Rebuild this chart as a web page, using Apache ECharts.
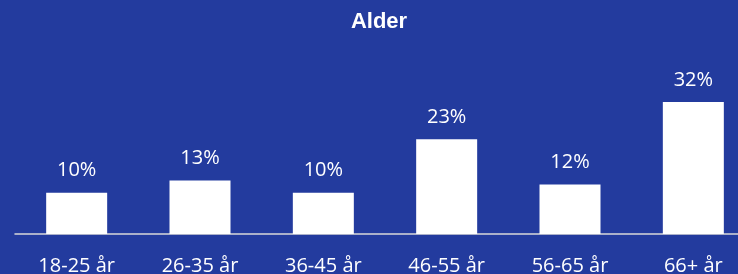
<!DOCTYPE html>
<html>
<head>
<meta charset="utf-8">
<script src="https://cdn.jsdelivr.net/npm/echarts@6/dist/echarts.min.js"></script>
<style>
html,body{margin:0;padding:0;background:#233B9E;}
#c{width:738px;height:274px;}
</style>
</head>
<body>
<div id="c"></div>
<script>
const titleText = "Alder";
const categories = ["18-25 år", "26-35 år", "36-45 år", "46-55 år", "56-65 år", "66+ år"];
const values = [10, 13, 10, 23, 12, 32];

const chart = echarts.init(document.getElementById('c'), null, {renderer: 'canvas'});
chart.setOption({
  backgroundColor: '#233B9E',
  animation: false,
  title: {
    text: titleText,
    left: 374,
    top: 6,
    textAlign: 'center',
    textStyle: {color: '#ffffff', fontFamily: 'Liberation Sans', fontWeight: 'bold', fontSize: 22}
  },
  grid: {left: 15, top: 69, bottom: 40, width: 740, outerBoundsMode: 'none', containLabel: false},
  xAxis: {
    type: 'category',
    data: categories,
    axisLine: {show: true, lineStyle: {color: '#d9d9d9', width: 1.5}},
    axisTick: {show: false},
    axisLabel: {color: '#ffffff', fontFamily: 'Open Sans', fontSize: 20, margin: 22}
  },
  yAxis: {
    type: 'value', min: 0, max: 40, show: false
  },
  series: [{
    type: 'bar',
    data: values,
    barWidth: 61,
    itemStyle: {color: '#ffffff'},
    label: {
      show: true,
      position: 'top',
      distance: 12,
      color: '#ffffff',
      fontFamily: 'Open Sans',
      fontSize: 20,
      formatter: p => p.value + '%'
    }
  }]
});
</script>
</body>
</html>
